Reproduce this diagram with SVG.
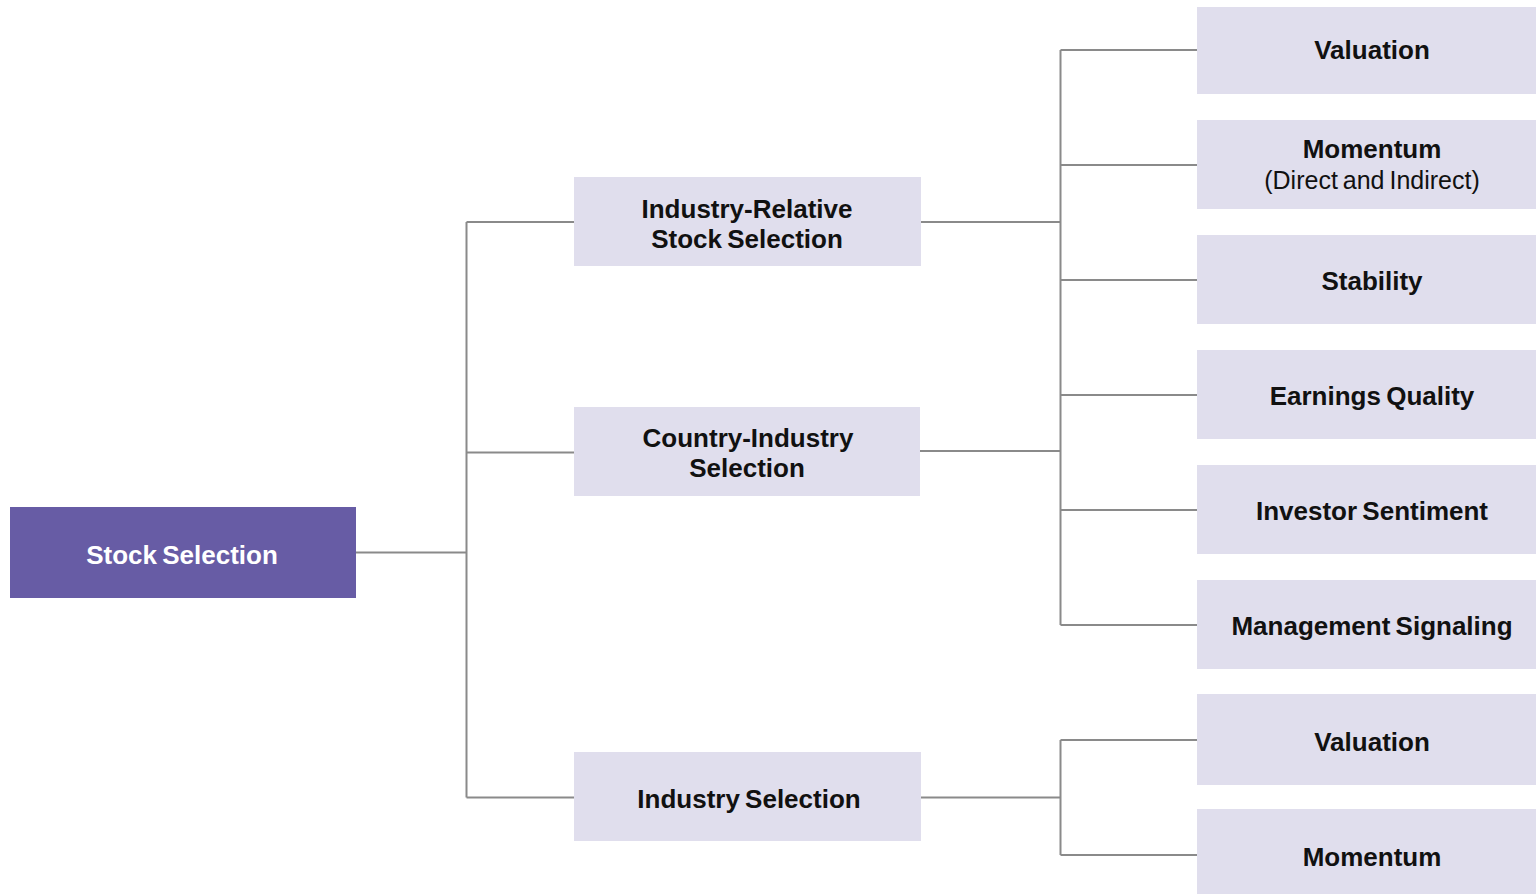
<svg xmlns="http://www.w3.org/2000/svg" width="1536" height="894" viewBox="0 0 1536 894">
<style>
.box{fill:#e0deed}
.root{fill:#675ca5}
.t{font-family:"Liberation Sans",Arial,sans-serif;font-weight:bold;font-size:26px;fill:#111;text-anchor:middle;word-spacing:-2px}
.w{fill:#fff}
.n{font-weight:normal;font-size:25px}
.c{stroke:#8a8a8a;stroke-width:2;fill:none}
</style>
<rect width="1536" height="894" fill="#fff"/>
<g id="connectors">
<path class="c" d="M356 552.5H466.5M466.5 222V797.5M466.5 222H574M466.5 452.5H574M466.5 797.5H574"/>
<path class="c" d="M921 222H1060.5M920 451H1060.5M1060.5 50V625M1060.5 50H1197M1060.5 165H1197M1060.5 280H1197M1060.5 395H1197M1060.5 510H1197M1060.5 625H1197"/>
<path class="c" d="M921 797.5H1060.5M1060.5 740V855M1060.5 740H1197M1060.5 855H1197"/>
</g>
<g id="stock-selection"><rect class="root" x="10" y="507" width="346" height="91"/><text class="t w" x="182" y="564">Stock Selection</text></g>
<g id="industry-relative"><rect class="box" x="574" y="177" width="347" height="89"/><text class="t" x="747" y="218">Industry-Relative</text><text class="t" x="747" y="248">Stock Selection</text></g>
<g id="country-industry"><rect class="box" x="574" y="407" width="346" height="89"/><text class="t" x="748" y="447">Country-Industry</text><text class="t" x="747" y="477">Selection</text></g>
<g id="industry-selection"><rect class="box" x="574" y="752" width="347" height="89"/><text class="t" x="749" y="808">Industry Selection</text></g>
<g id="valuation-1"><rect class="box" x="1197" y="7" width="339" height="87"/><text class="t" x="1372" y="59">Valuation</text></g>
<g id="momentum-1"><rect class="box" x="1197" y="120" width="339" height="89"/><text class="t" x="1372" y="158">Momentum</text><text class="t n" x="1372" y="189">(Direct and Indirect)</text></g>
<g id="stability"><rect class="box" x="1197" y="235" width="339" height="89"/><text class="t" x="1372" y="290">Stability</text></g>
<g id="earnings-quality"><rect class="box" x="1197" y="350" width="339" height="89"/><text class="t" x="1372" y="405">Earnings Quality</text></g>
<g id="investor-sentiment"><rect class="box" x="1197" y="465" width="339" height="89"/><text class="t" x="1372" y="520">Investor Sentiment</text></g>
<g id="management-signaling"><rect class="box" x="1197" y="580" width="339" height="89"/><text class="t" x="1372" y="635">Management Signaling</text></g>
<g id="valuation-2"><rect class="box" x="1197" y="694" width="339" height="91"/><text class="t" x="1372" y="751">Valuation</text></g>
<g id="momentum-2"><rect class="box" x="1197" y="809" width="339" height="85"/><text class="t" x="1372" y="866">Momentum</text></g>
</svg>
